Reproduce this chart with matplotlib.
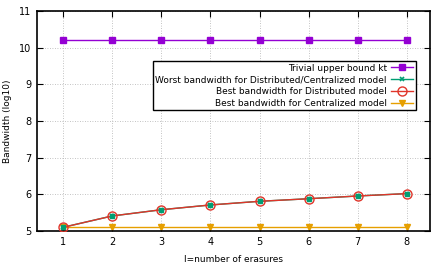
import matplotlib
matplotlib.use("Agg")
import matplotlib.pyplot as plt

l_vals = [1, 2, 3, 4, 5, 6, 7, 8]
trivial = [10.21] * 8
worst = [5.10, 5.41, 5.58, 5.71, 5.81, 5.88, 5.955, 6.02]
best_dist = [5.10, 5.41, 5.58, 5.71, 5.81, 5.88, 5.955, 6.02]
best_cent = [5.10] * 8

plt.rcParams['font.family'] = ['DejaVu Sans']
fig = plt.figure(figsize=(4.45, 2.67), dpi=100)
ax = fig.add_axes([37/445, 1 - 231/267, (430-37)/445, (231-11)/267])

ax.plot(l_vals, trivial, color='#9400d3', marker='s', markersize=4, lw=1,
        label='Trivial upper bound kt', zorder=3)
ax.plot(l_vals, worst, color='#009e73', marker='x', markersize=3, mew=1.2, lw=1,
        label='Worst bandwidth for Distributed/Centralized model', zorder=2)
ax.plot(l_vals, best_dist, color='#e0352a', marker='o', markersize=6.5, mfc='none', mew=1, lw=1,
        label='Best bandwidth for Distributed model', zorder=3)
ax.plot(l_vals, worst, color='#009e73', marker='s', markersize=3, lw=0, zorder=5)
ax.plot(l_vals, best_cent, color='#e69f00', marker='v', markersize=4, lw=1,
        label='Best bandwidth for Centralized model', zorder=2)

ax.set_xlim(0.47, 8.47)
ax.set_ylim(5, 11)
ax.set_xticks(l_vals)
ax.set_yticks([5, 6, 7, 8, 9, 10, 11])
ax.tick_params(direction='in', top=True, right=True, labelsize=7, length=4, pad=4)
ax.grid(True, color='#b0b0b0', linestyle=(0, (1, 2)), lw=0.6)
for s in ax.spines.values():
    s.set_linewidth(1.2)
ax.set_xlabel('l=number of erasures', fontsize=6.5, labelpad=6)
ax.set_ylabel('Bandwidth (log10)', fontsize=6.5, labelpad=5)

leg = ax.legend(loc='upper right', bbox_to_anchor=(0.964, 0.773), fontsize=6.5,
                markerfirst=False, fancybox=False, framealpha=1, edgecolor='black',
                borderpad=0.3, labelspacing=0.3, handlelength=2.4, handletextpad=0.5,
                borderaxespad=0)
for t in leg.get_texts():
    t.set_ha('right')
leg._legend_box.align = 'right'
leg.get_frame().set_linewidth(1)

fig.savefig('out.png', dpi=100)
